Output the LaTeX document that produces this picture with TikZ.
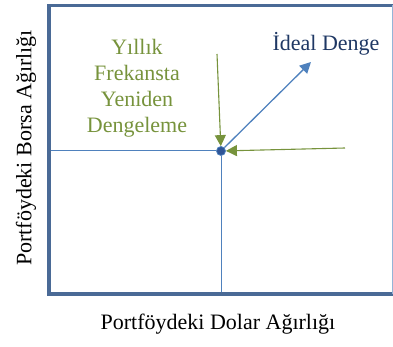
\documentclass[tikz,border=0pt]{standalone}
\usepackage{fontspec}
\setmainfont{Liberation Serif}
\usetikzlibrary{arrows.meta}
\definecolor{frame}{HTML}{4A6A96}
\definecolor{lineblue}{HTML}{4F81BD}
\definecolor{olive}{HTML}{77933C}
\definecolor{navy}{HTML}{1F3864}
\definecolor{dotfill}{HTML}{2F5597}
\tikzset{
  lbl/.style={font=\fontsize{22}{26}\selectfont, inner sep=0pt, align=center},
  guide/.style={draw=lineblue, line width=1pt},
  garrow/.style={draw=olive, line width=1.1pt, -{Triangle[length=11pt,width=11pt]}},
  barrow/.style={draw=lineblue, line width=1.3pt, -{Triangle[length=11pt,width=11pt]}},
}
\begin{document}
\begin{tikzpicture}[x=1pt,y=-1pt]
\useasboundingbox (0,0) rectangle (393,347);
% frame
\coordinate (tl) at (49,5.5);
\coordinate (tr) at (392,5.5);
\coordinate (bl) at (49,294);
\coordinate (br) at (392,294);
\draw[frame, line width=3.5pt, line cap=rect] (tr) -- (tl) -- (bl) -- (br);
\draw[lineblue!60, line width=0.8pt] (tr) -- (br);
% guides
\coordinate (hl) at (50.5,151);
\coordinate (vb) at (221,292);
\node[circle, fill=dotfill, draw=lineblue, line width=0.8pt, minimum size=9pt, inner sep=0pt] (dot) at (221,151) {};
\draw[guide] (hl) -- (dot.west);
\draw[guide] (dot.south) -- (vb);
% arrows
\coordinate (gtop) at (217,54);
\coordinate (gright) at (345,148);
\coordinate (bend) at (311,62);
\draw[garrow] (gtop) -- (dot);
\draw[garrow] (gright) -- (dot);
\draw[barrow] (dot) -- (bend);
% labels
\node[lbl, text=olive] (yil) at (137,88) {Yıllık\\Frekansta\\Yeniden\\Dengeleme};
\node[lbl, text=navy] (ideal) at (326,44) {İdeal Denge};
\node[lbl, text=black] (xlab) at (218,324) {Portföydeki Dolar Ağırlığı};
\node[lbl, text=black, rotate=90] (ylab) at (26,148) {Portföydeki Borsa Ağırlığı};
\end{tikzpicture}
\end{document}
